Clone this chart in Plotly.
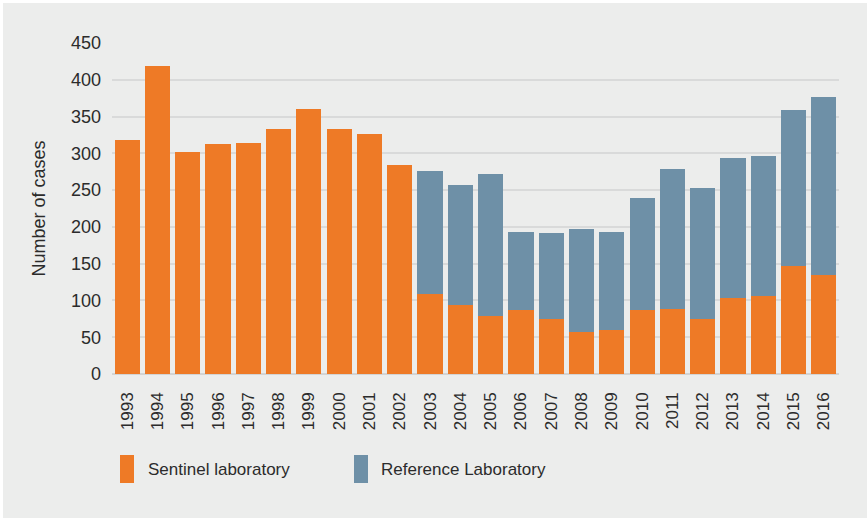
import plotly.graph_objects as go

years = [str(y) for y in range(1993, 2017)]
sentinel = [318, 419, 302, 313, 314, 333, 360, 333, 326, 284,
            109, 94, 79, 87, 75, 57, 60, 87, 88, 75, 104, 106, 147, 134]
total = [318, 419, 302, 313, 314, 333, 360, 333, 326, 284,
         276, 257, 272, 193, 192, 197, 193, 239, 279, 253, 294, 297, 359, 376]
reference = [t - s for t, s in zip(total, sentinel)]

ORANGE = "#EE7A26"
BLUE = "#6E90A7"
BG = "#ECEDEC"
GRID = "#D9DADA"
TEXT = "#2B2B2B"
FONT = "Liberation Sans"

W, H = 867, 518
L, R, T, B = 112, 28, 43, 144
pw, ph = W - L - R, H - T - B


def px(x):
    return (x - L) / pw


def py(y):
    return (H - B - y) / ph


fig = go.Figure()
fig.add_trace(go.Bar(x=years, y=sentinel, name="Sentinel laboratory",
                     marker=dict(color=ORANGE, line_width=0)))
fig.add_trace(go.Bar(x=years, y=reference, name="Reference Laboratory",
                     marker=dict(color=BLUE, line_width=0)))

shapes = [
    # outer panel with thin white frame
    dict(type="rect", xref="paper", yref="paper", x0=px(3), x1=px(W), y0=py(H), y1=py(3),
         fillcolor=BG, line_width=0, layer="below"),
    # legend swatches
    dict(type="rect", xref="paper", yref="paper", x0=px(120), x1=px(134), y0=py(483), y1=py(455),
         fillcolor=ORANGE, line_width=0),
    dict(type="rect", xref="paper", yref="paper", x0=px(354), x1=px(368), y0=py(483), y1=py(455),
         fillcolor=BLUE, line_width=0),
]

annotations = [
    dict(text="Sentinel laboratory", xref="paper", yref="paper", x=px(146), y=py(469),
         xanchor="left", yanchor="middle", showarrow=False,
         font=dict(family=FONT, size=17, color=TEXT)),
    dict(text="Reference Laboratory", xref="paper", yref="paper", x=px(379), y=py(469),
         xanchor="left", yanchor="middle", showarrow=False,
         font=dict(family=FONT, size=17, color=TEXT)),
]

fig.update_layout(
    width=W, height=H,
    margin=dict(l=L, r=R, t=T, b=B),
    barmode="stack",
    bargap=0.17,
    showlegend=False,
    paper_bgcolor="white",
    plot_bgcolor=BG,
    font=dict(family=FONT, color=TEXT),
    shapes=shapes,
    annotations=annotations,
)
fig.update_xaxes(
    tickangle=-90, tickfont=dict(size=17, color=TEXT), showgrid=False,
    ticks="", ticklabelstandoff=14, showline=False,
)
fig.update_yaxes(
    range=[0, 450], dtick=50, tickfont=dict(size=18, color=TEXT),
    showgrid=True, gridcolor=GRID, gridwidth=1.5,
    zeroline=True, zerolinecolor="#D3D4D4", zerolinewidth=2,
    ticks="", ticklabelstandoff=10,
    title=dict(text="Number of cases", font=dict(family=FONT, size=18, color=TEXT), standoff=20),
)

fig.write_html("out.html", config={"displayModeBar": False},
               post_script="document.body.style.margin='0';")
